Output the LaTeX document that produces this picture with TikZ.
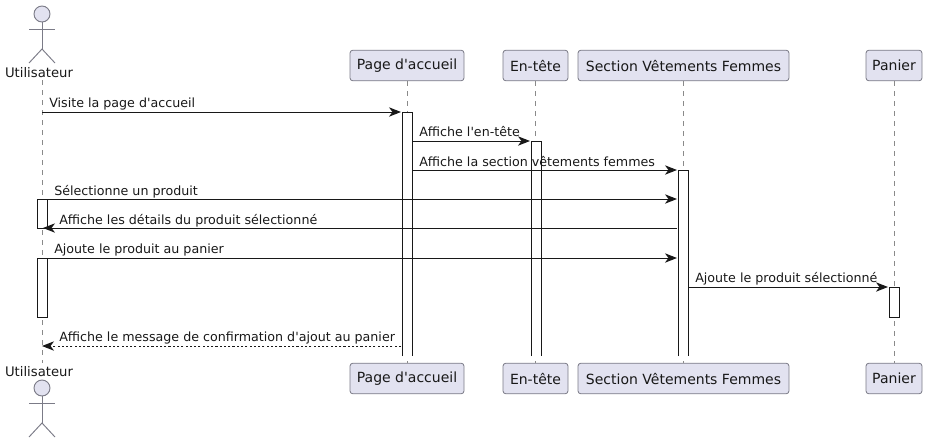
\documentclass[tikz,border=0pt]{standalone}
\usepackage{fontspec}
\setmainfont{DejaVu Sans}[Ligatures=TeXOff]
\usetikzlibrary{arrows.meta}
\definecolor{boxfill}{HTML}{E2E2F0}
\definecolor{boxline}{HTML}{7B7B87}
\definecolor{lifeline}{HTML}{8A8A8A}
\definecolor{inkline}{HTML}{181818}
\tikzset{
	part/.style={draw=boxline, fill=boxfill, rounded corners=2.2pt, line width=0.6pt, inner sep=0pt, minimum height=23pt, font=\fontsize{10.5pt}{12pt}\selectfont, text=inkline},
	actorname/.style={inner sep=0pt, font=\fontsize{9.9pt}{12pt}\selectfont, text=inkline},
	life/.style={draw=lifeline, line width=0.6pt, dash pattern=on 3.75pt off 3.75pt},
	limb/.style={draw=boxline, line width=0.7pt},
	bar/.style={draw=inkline, fill=white, line width=0.75pt},
	msg/.style={draw=inkline, line width=0.75pt, -{Stealth[length=9pt,width=7pt,inset=2.6pt]}},
	msgback/.style={msg, dash pattern=on 1.6pt off 1.6pt},
	msgtext/.style={anchor=base west, inner sep=0pt, font=\fontsize{9.5pt}{12pt}\selectfont, text=inkline},
}
\begin{document}
\begin{tikzpicture}[x=0.75pt,y=-0.75pt]
\useasboundingbox (0,0) rectangle (928,444);
% participants
\foreach \name/\xpos/\wid/\txt in {page/407/114/Page d'accueil, entete/535.5/65/En-tête, section/683.5/211/Section Vêtements Femmes, panier/894/56/Panier} {
	\node[part, minimum width=\wid*0.75pt] (\name top) at (\xpos, 65.5) {\txt};
	\node[part, minimum width=\wid*0.75pt] (\name bot) at (\xpos, 378.5) {\txt};
}
\node[actorname] (user top) at (39, 72.7) {Utilisateur};
\node[actorname] (user bot) at (39, 371.7) {Utilisateur};
\coordinate (user start) at (42, 80);
\coordinate (user end) at (42, 363);
% actors
\foreach \n/\yoff in {top/0, bot/374} {
	\node[circle, draw=boxline, fill=boxfill, line width=0.7pt, minimum size=12pt, inner sep=0pt] (head \n) at (42, 14+\yoff) {};
	\draw[limb] (head \n) -- (42, 49+\yoff);
	\draw[limb] (29, 29+\yoff) -- (55, 29+\yoff);
	\draw[limb] (29, 63+\yoff) -- (42, 49+\yoff) -- (55, 63+\yoff);
}
% lifelines
\draw[life] (user start) -- (user end);
\foreach \name in {page,entete,section,panier} {
	\draw[life] (\name top) -- (\name bot);
}
% message rows
\foreach \n/\y in {1/112,2/141,3/170,4/199,5/228,6/258,7/287,8/346} {
	\coordinate (r\n) at (0, \y);
}
% activation bars
\fill[white] (402,112) rectangle (412,356);
\draw[bar] (402,356) -- (402,112) -- (412,112) -- (412,356);
\fill[white] (531,141) rectangle (541,356);
\draw[bar] (531,356) -- (531,141) -- (541,141) -- (541,356);
\fill[white] (678,170) rectangle (688,356);
\draw[bar] (678,356) -- (678,170) -- (688,170) -- (688,356);
\draw[bar] (37,199) rectangle (47,228);
\draw[bar] (37,258) rectangle (47,317);
\draw[bar] (889,287) rectangle (899,317);
% messages
\coordinate (u) at (42,0);
\coordinate (ub) at (47,0);
\coordinate (pl) at (401,0);
\coordinate (pb) at (412,0);
\coordinate (el) at (530,0);
\coordinate (sl) at (677,0);
\coordinate (sb) at (688,0);
\coordinate (nl) at (888,0);
\draw[msg] (u |- r1) -- (pl |- r1);
\draw[msg] (pb |- r2) -- (el |- r2);
\draw[msg] (pb |- r3) -- (sl |- r3);
\draw[msg] (ub |- r4) -- (sl |- r4);
\draw[msg] (sl |- r5) -- (43,228);
\draw[msg] (ub |- r6) -- (sl |- r6);
\draw[msg] (sb |- r7) -- (nl |- r7);
\draw[msgback] (pl |- r8) -- (u |- r8);
% labels
\node[msgtext] (t1) at (49,107) {Visite la page d'accueil};
\node[msgtext] (t2) at (419,136) {Affiche l'en-tête};
\node[msgtext] (t3) at (419,166) {Affiche la section vêtements femmes};
\node[msgtext] (t4) at (54,195) {Sélectionne un produit};
\node[msgtext] (t5) at (59,224) {Affiche les détails du produit sélectionné};
\node[msgtext] (t6) at (54,253) {Ajoute le produit au panier};
\node[msgtext] (t7) at (695,282) {Ajoute le produit sélectionné};
\node[msgtext] (t8) at (59,341) {Affiche le message de confirmation d'ajout au panier};
\end{tikzpicture}
\end{document}
